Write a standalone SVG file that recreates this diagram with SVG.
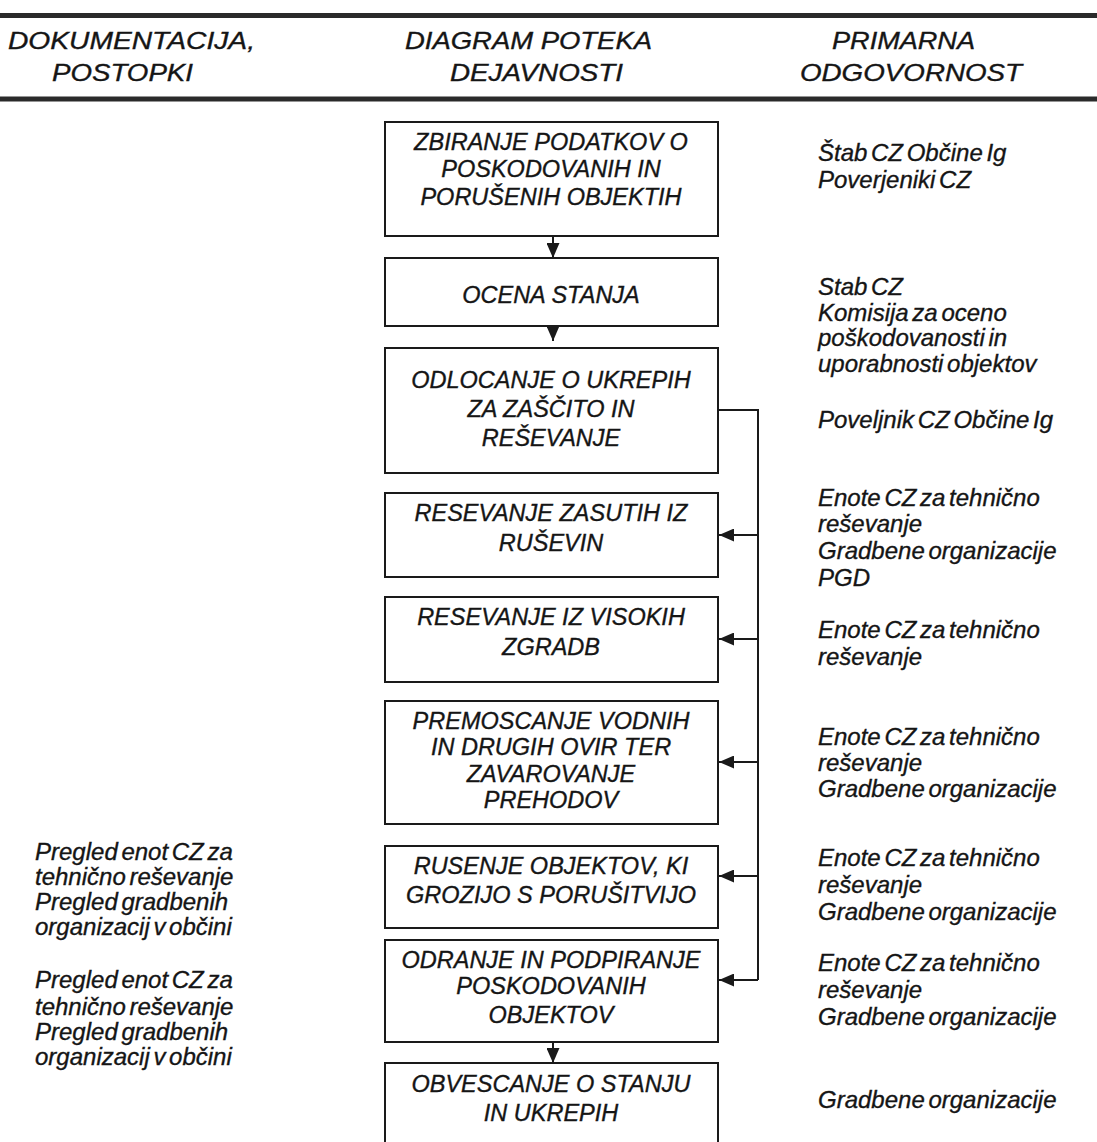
<svg xmlns="http://www.w3.org/2000/svg" width="1097" height="1142" viewBox="0 0 1097 1142">
<style>
  text { font-family: "Liberation Sans", Arial, sans-serif; font-style: italic; fill: #151515; stroke: #151515; stroke-width: 0.35; }
  .hdr { font-size: 24px; }
  .box { fill: #ffffff; stroke: #1a1a1a; stroke-width: 2; }
  .bt { font-size: 23.5px; text-anchor: middle; }
  .side { font-size: 24px; word-spacing: -3px; }
  .rule { stroke: #2a2a2a; stroke-width: 5; }
  .conn { fill: none; stroke: #1a1a1a; stroke-width: 2; }
</style>
<defs>
  <marker id="arr" markerUnits="userSpaceOnUse" markerWidth="15" markerHeight="13" refX="15" refY="6.5" orient="auto">
    <path d="M0,0 L15,6.5 L0,13 Z" fill="#1a1a1a"/>
  </marker>
</defs>
<rect width="1097" height="1142" fill="#ffffff"/>

<g id="header">
  <line class="rule" x1="0" y1="15.5" x2="1097" y2="15.5"/>
  <line class="rule" x1="0" y1="99" x2="1097" y2="99"/>
  <text class="hdr" x="8" y="49" textLength="247" lengthAdjust="spacingAndGlyphs">DOKUMENTACIJA,</text>
  <text class="hdr" x="52" y="81" textLength="141" lengthAdjust="spacingAndGlyphs">POSTOPKI</text>
  <text class="hdr" x="405" y="49" textLength="247" lengthAdjust="spacingAndGlyphs">DIAGRAM POTEKA</text>
  <text class="hdr" x="450" y="81" textLength="173" lengthAdjust="spacingAndGlyphs">DEJAVNOSTI</text>
  <text class="hdr" x="832" y="49" textLength="143" lengthAdjust="spacingAndGlyphs">PRIMARNA</text>
  <text class="hdr" x="800" y="81" textLength="222" lengthAdjust="spacingAndGlyphs">ODGOVORNOST</text>
</g>

<g id="connectors">
  <line class="conn" x1="553" y1="236" x2="553" y2="258" marker-end="url(#arr)"/>
  <line class="conn" x1="553" y1="326" x2="553" y2="341" marker-end="url(#arr)"/>
  <polyline class="conn" points="718,410 758,410 758,980"/>
  <line class="conn" x1="758" y1="535" x2="719" y2="535" marker-end="url(#arr)"/>
  <line class="conn" x1="758" y1="639" x2="719" y2="639" marker-end="url(#arr)"/>
  <line class="conn" x1="758" y1="762" x2="719" y2="762" marker-end="url(#arr)"/>
  <line class="conn" x1="758" y1="876" x2="719" y2="876" marker-end="url(#arr)"/>
  <line class="conn" x1="758" y1="980" x2="719" y2="980" marker-end="url(#arr)"/>
  <line class="conn" x1="553" y1="1042" x2="553" y2="1063" marker-end="url(#arr)"/>
</g>

<g id="n1">
  <rect class="box" x="385" y="122" width="333" height="114"/>
  <text class="bt" x="551" y="150">ZBIRANJE PODATKOV O</text>
  <text class="bt" x="551" y="177">POSKODOVANIH IN</text>
  <text class="bt" x="551" y="205">PORUŠENIH OBJEKTIH</text>
</g>
<g id="n2">
  <rect class="box" x="385" y="258" width="333" height="68"/>
  <text class="bt" x="551" y="303">OCENA STANJA</text>
</g>
<g id="n3">
  <rect class="box" x="385" y="348" width="333" height="125"/>
  <text class="bt" x="551" y="388">ODLOCANJE O UKREPIH</text>
  <text class="bt" x="551" y="417">ZA ZAŠČITO IN</text>
  <text class="bt" x="551" y="446">REŠEVANJE</text>
</g>
<g id="n4">
  <rect class="box" x="385" y="493" width="333" height="84"/>
  <text class="bt" x="551" y="521">RESEVANJE ZASUTIH IZ</text>
  <text class="bt" x="551" y="551">RUŠEVIN</text>
</g>
<g id="n5">
  <rect class="box" x="385" y="597" width="333" height="85"/>
  <text class="bt" x="551" y="625">RESEVANJE IZ VISOKIH</text>
  <text class="bt" x="551" y="655">ZGRADB</text>
</g>
<g id="n6">
  <rect class="box" x="385" y="701" width="333" height="123"/>
  <text class="bt" x="551" y="729">PREMOSCANJE VODNIH</text>
  <text class="bt" x="551" y="755">IN DRUGIH OVIR TER</text>
  <text class="bt" x="551" y="782">ZAVAROVANJE</text>
  <text class="bt" x="551" y="808">PREHODOV</text>
</g>
<g id="n7">
  <rect class="box" x="385" y="846" width="333" height="82"/>
  <text class="bt" x="551" y="874">RUSENJE OBJEKTOV, KI</text>
  <text class="bt" x="551" y="903">GROZIJO S PORUŠITVIJO</text>
</g>
<g id="n8">
  <rect class="box" x="385" y="940" width="333" height="102"/>
  <text class="bt" x="551" y="968">ODRANJE IN PODPIRANJE</text>
  <text class="bt" x="551" y="994">POSKODOVANIH</text>
  <text class="bt" x="551" y="1023">OBJEKTOV</text>
</g>
<g id="n9">
  <rect class="box" x="385" y="1063" width="333" height="90"/>
  <text class="bt" x="551" y="1092">OBVESCANJE O STANJU</text>
  <text class="bt" x="551" y="1121">IN UKREPIH</text>
</g>

<g id="responsibility">
  <text class="side" x="818" y="161">Štab CZ Občine Ig</text>
  <text class="side" x="818" y="188">Poverjeniki CZ</text>
  <text class="side" x="818" y="295">Stab CZ</text>
  <text class="side" x="818" y="321">Komisija za oceno</text>
  <text class="side" x="818" y="346">poškodovanosti in</text>
  <text class="side" x="818" y="372">uporabnosti objektov</text>
  <text class="side" x="818" y="428">Poveljnik CZ Občine Ig</text>
  <text class="side" x="818" y="506">Enote CZ za tehnično</text>
  <text class="side" x="818" y="532">reševanje</text>
  <text class="side" x="818" y="559">Gradbene organizacije</text>
  <text class="side" x="818" y="586">PGD</text>
  <text class="side" x="818" y="638">Enote CZ za tehnično</text>
  <text class="side" x="818" y="665">reševanje</text>
  <text class="side" x="818" y="745">Enote CZ za tehnično</text>
  <text class="side" x="818" y="771">reševanje</text>
  <text class="side" x="818" y="797">Gradbene organizacije</text>
  <text class="side" x="818" y="866">Enote CZ za tehnično</text>
  <text class="side" x="818" y="893">reševanje</text>
  <text class="side" x="818" y="920">Gradbene organizacije</text>
  <text class="side" x="818" y="971">Enote CZ za tehnično</text>
  <text class="side" x="818" y="998">reševanje</text>
  <text class="side" x="818" y="1025">Gradbene organizacije</text>
  <text class="side" x="818" y="1108">Gradbene organizacije</text>
</g>

<g id="documentation">
  <text class="side" x="35" y="860">Pregled enot CZ za</text>
  <text class="side" x="35" y="885">tehnično reševanje</text>
  <text class="side" x="35" y="910">Pregled gradbenih</text>
  <text class="side" x="35" y="935">organizacij v občini</text>
  <text class="side" x="35" y="988">Pregled enot CZ za</text>
  <text class="side" x="35" y="1015">tehnično reševanje</text>
  <text class="side" x="35" y="1040">Pregled gradbenih</text>
  <text class="side" x="35" y="1065">organizacij v občini</text>
</g>
</svg>
